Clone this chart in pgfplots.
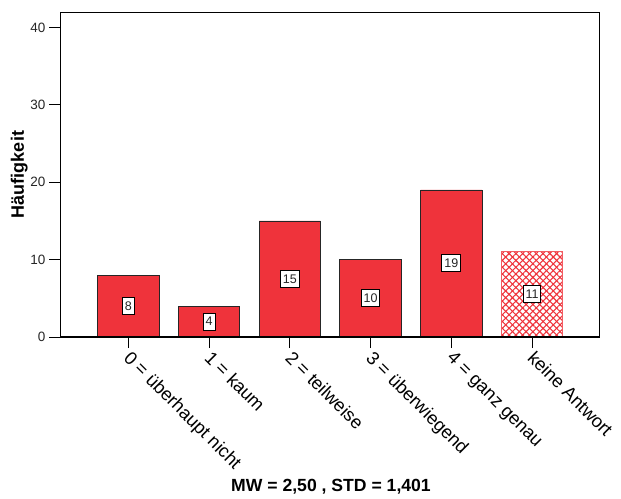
\documentclass[border=0pt]{standalone}
\usepackage{pgfplots}
\pgfplotsset{compat=1.18}
\usetikzlibrary{patterns.meta}
\usepackage{fontspec}
\setmainfont{Liberation Sans}
\definecolor{barred}{RGB}{239,51,59}
\begin{document}
\begin{tikzpicture}
\useasboundingbox (0,0) rectangle (621pt,498pt);
\begin{axis}[
  at={(60pt,161pt)}, anchor=south west,
  scale only axis, width=539pt, height=325pt,
  xmin=-0.846, xmax=5.83, ymin=0, ymax=42,
  xtick={0,1,2,3,4,5},
  xticklabels={0 = überhaupt nicht, 1 = kaum, 2 = teilweise, 3 = überwiegend, 4 = ganz genau, keine Antwort},
  ytick={0,10,20,30,40},
  tick align=outside, major tick length=11pt,
  xtick pos=left, ytick pos=left,
  axis line style={line width=0.8pt},
  tick style={line width=0.8pt, black},
  /pgf/number format/assume math mode=true,
  yticklabel style={font=\fontsize{13.5}{15}\selectfont, color=black!85},
  xticklabel style={font=\fontsize{18.3}{20}\selectfont, xshift=4pt, rotate=-45, anchor=north west, inner sep=1pt},
  ylabel={Häufigkeit},
  ylabel shift=-4pt,
  ylabel style={font=\bfseries\fontsize{18}{20}\selectfont},
  clip=false,
]
\addplot[ybar, bar width=0.76, bar shift=0pt, fill=barred, draw=black!85, line width=0.8pt]
  coordinates {(0,8) (1,4) (2,15) (3,10) (4,19)};
\addplot[ybar, bar width=0.76, bar shift=0pt, draw=none, fill=white]
  coordinates {(5,11)};
\addplot[ybar, bar width=0.76, bar shift=0pt, draw=none, pattern={Lines[angle=45,distance=4.8pt,line width=1.1pt]}, pattern color=barred]
  coordinates {(5,11)};
\addplot[ybar, bar width=0.76, bar shift=0pt, draw=none, pattern={Lines[angle=-45,distance=4.8pt,line width=1.1pt]}, pattern color=barred]
  coordinates {(5,11)};
\addplot[ybar, bar width=0.76, bar shift=0pt, draw=barred!80, fill=none, line width=0.9pt]
  coordinates {(5,11)};
\addplot[draw=none, mark=none, nodes near coords, point meta=explicit symbolic,
  every node near coord/.style={draw=black, fill=white, line width=1pt, font=\fontsize{12.5}{13}\selectfont, inner xsep=2.5pt, minimum height=17pt, anchor=center, text=black!85}]
  coordinates {(0,4)[8] (1,2)[4] (2,7.5)[15] (3,5)[10] (4,9.5)[19] (5,5.5)[11]};
\draw[line width=2pt] (rel axis cs:0,0) -- (rel axis cs:1,0);
\end{axis}
\node[font=\bfseries\fontsize{17.6}{20}\selectfont] at (331pt,11pt) {MW = 2,50 , STD = 1,401};
\end{tikzpicture}
\end{document}
